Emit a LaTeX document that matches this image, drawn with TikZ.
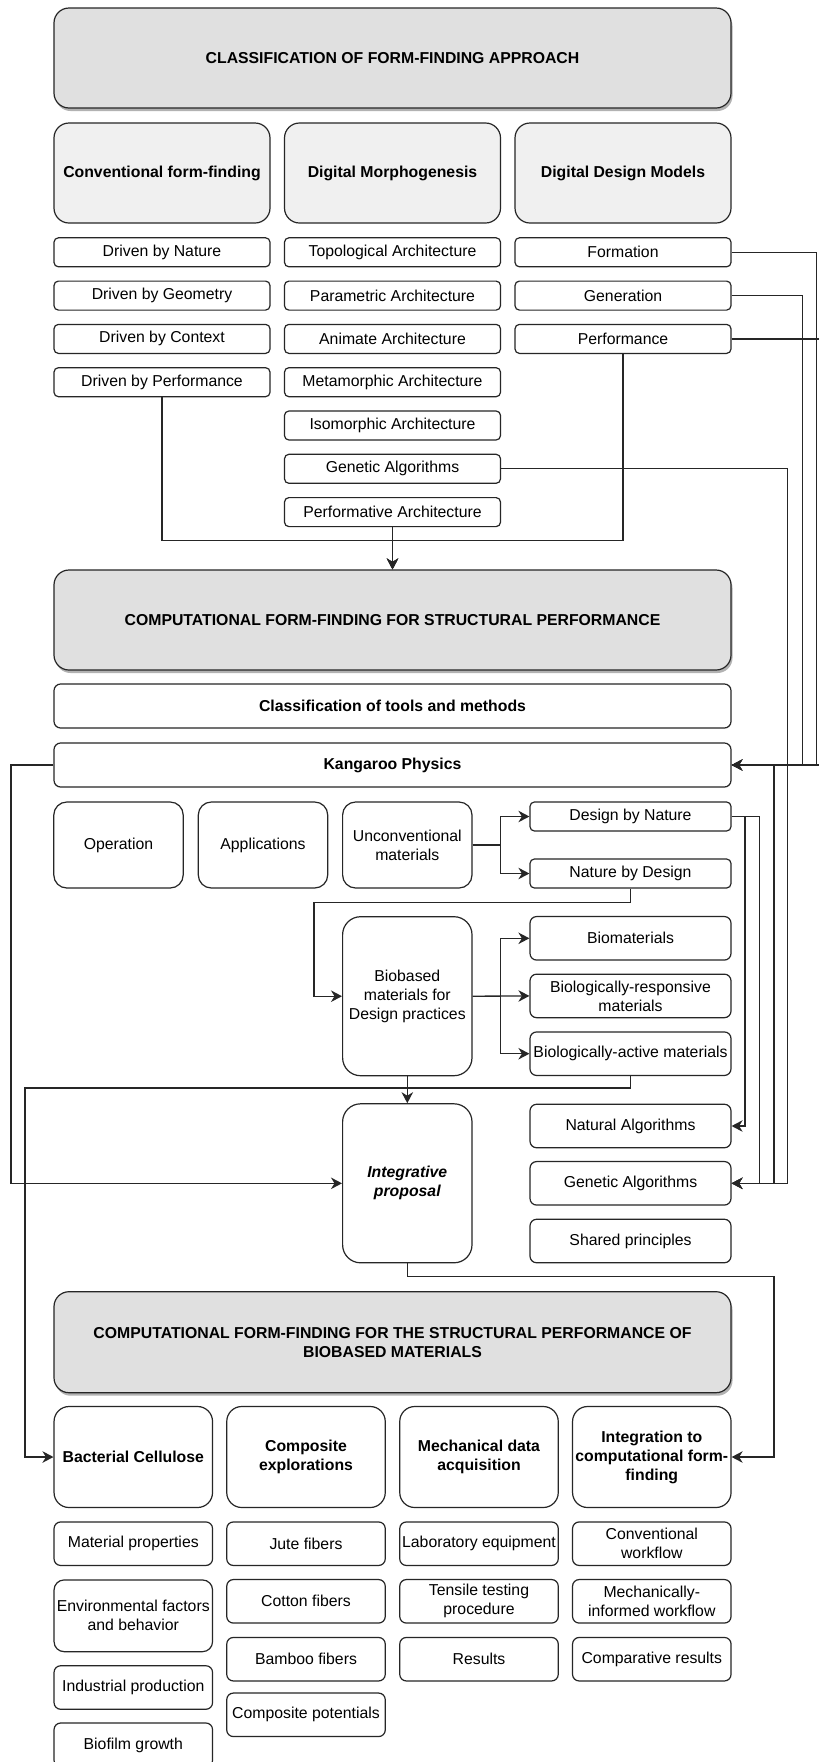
\documentclass[tikz,border=0pt]{standalone}
\usepackage{fontspec}
\setmainfont{Liberation Sans}
\usetikzlibrary{arrows.meta,shadows,calc}
\newcommand{\fsz}{\fontsize{15.8}{19}\selectfont}
\begin{document}
\begin{tikzpicture}[x=1pt,y=-1pt,
 base/.style={draw=black!85,line width=1.2pt,inner sep=2pt,align=center,font=\fsz,fill=white},
 ttl/.style={base,fill=black!12,rounded corners=15pt,minimum width=677pt,minimum height=100pt,font=\fsz\bfseries,
   drop shadow={shadow xshift=1.5pt,shadow yshift=-3pt,opacity=0.3,fill=black}},
 hdr/.style={base,fill=black!6,rounded corners=15pt,minimum width=216pt,minimum height=100pt,font=\fsz\bfseries},
 rowbox/.style={base,rounded corners=4.4pt,minimum width=216pt,minimum height=29pt},
 wide/.style={base,rounded corners=6.6pt,minimum width=677pt,minimum height=44pt,font=\fsz\bfseries},
 sq/.style={base,rounded corners=13pt,minimum width=129.4pt,minimum height=86pt},
 tall/.style={base,rounded corners=18pt,minimum width=129.4pt,minimum height=159pt},
 rbox/.style={base,rounded corners=4.4pt,minimum width=201pt,minimum height=29pt},
 rbig/.style={base,rounded corners=6.6pt,minimum width=201pt,minimum height=43.5pt},
 bhdr/.style={base,rounded corners=15pt,minimum width=158.5pt,minimum height=101pt,font=\fsz\bfseries},
 bitem/.style={base,rounded corners=6.6pt,minimum width=158.5pt,minimum height=43.5pt},
 ln/.style={draw=black!85,line width=1.3pt},
 arr/.style={ln,-{Stealth[length=11pt,width=11.5pt,inset=3.5pt]}}
]
\useasboundingbox (0,0) rectangle (819,1762);
\fill[white] (0,0) rectangle (819,1762);

% ---------- top section
\node[ttl] (t1) at (392.5,58) {CLASSIFICATION OF FORM-FINDING APPROACH};
\node[hdr] (h1) at (162,173) {Conventional form-finding};
\node[hdr] (h2) at (392.5,173) {Digital Morphogenesis};
\node[hdr] (h3) at (623,173) {Digital Design Models};

\node[rowbox] (dnat) at (162,252.3) {Driven by Nature};
\node[rowbox] (dgeo) at (162,295.6) {Driven by Geometry};
\node[rowbox] (dctx) at (162,338.9) {Driven by Context};
\node[rowbox] (dperf) at (162,382.2) {Driven by Performance};

\node[rowbox] (topo) at (392.5,252.3) {Topological Architecture};
\node[rowbox] (param) at (392.5,295.6) {Parametric Architecture};
\node[rowbox] (anim) at (392.5,338.9) {Animate Architecture};
\node[rowbox] (meta) at (392.5,382.2) {Metamorphic Architecture};
\node[rowbox] (iso) at (392.5,425.5) {Isomorphic Architecture};
\node[rowbox] (gena) at (392.5,468.8) {Genetic Algorithms};
\node[rowbox] (pa) at (392.5,512.1) {Performative Architecture};

\node[rowbox] (form) at (623,252.3) {Formation};
\node[rowbox] (gen) at (623,295.6) {Generation};
\node[rowbox] (perf) at (623,338.9) {Performance};

% ---------- middle section
\node[ttl] (t2) at (392.5,620) {COMPUTATIONAL FORM-FINDING FOR STRUCTURAL PERFORMANCE};
\node[wide] (cls) at (392.5,706) {Classification of tools and methods};
\node[wide] (kang) at (392.5,765) {Kangaroo Physics};

\node[sq] (op) at (118.5,845) {Operation};
\node[sq] (app) at (263,845) {Applications};
\node[sq] (unc) at (407.3,845) {Unconventional\\materials};

\node[rbox] (dbn) at (630.5,816.5) {Design by Nature};
\node[rbox] (nbd) at (630.5,873.5) {Nature by Design};

\node[tall] (bio) at (407.3,996.2) {Biobased\\materials for\\Design practices};
\node[rbig] (bm) at (630.5,938.3) {Biomaterials};
\node[rbig] (bresp) at (630.5,995.9) {Biologically-responsive\\materials};
\node[rbig] (bact) at (630.5,1053.7) {Biologically-active materials};

\node[tall,font=\fsz\bfseries\itshape] (integ) at (407.3,1183.3) {Integrative\\proposal};
\node[rbig] (nat) at (630.5,1126) {Natural Algorithms};
\node[rbig] (genb) at (630.5,1183.3) {Genetic Algorithms};
\node[rbig] (shp) at (630.5,1241) {Shared principles};

% ---------- bottom section
\node[ttl,minimum height=101pt] (t3) at (392.5,1342.2) {COMPUTATIONAL FORM-FINDING FOR THE STRUCTURAL PERFORMANCE OF\\BIOBASED MATERIALS};

\node[bhdr] (bc) at (133.3,1457) {Bacterial Cellulose};
\node[bhdr] (ce) at (306,1457) {Composite\\explorations};
\node[bhdr] (md) at (479,1457) {Mechanical data\\acquisition};
\node[bhdr] (intg) at (651.8,1457) {Integration to\\computational form-\\finding};

\node[bitem] (mp) at (133.3,1543.7) {Material properties};
\node[bitem,minimum height=71.7pt,rounded corners=10pt] (env) at (133.3,1615.8) {Environmental factors\\and behavior};
\node[bitem] (ind) at (133.3,1687.5) {Industrial production};
\node[bitem,minimum height=44pt] (bf) at (133.3,1745) {Biofilm growth};

\node[bitem] (jute) at (306,1543.7) {Jute fibers};
\node[bitem] (cot) at (306,1601.3) {Cotton fibers};
\node[bitem] (bam) at (306,1659.2) {Bamboo fibers};
\node[bitem] (cpot) at (306,1714.8) {Composite potentials};

\node[bitem] (lab) at (479,1543.7) {Laboratory equipment};
\node[bitem] (ten) at (479,1601.3) {Tensile testing\\procedure};
\node[bitem] (res) at (479,1659.2) {Results};

\node[bitem] (conv) at (651.8,1543.7) {Conventional\\workflow};
\node[bitem] (mech) at (651.8,1601.3) {Mechanically-\\informed workflow};
\node[bitem] (comp) at (651.8,1659.2) {Comparative results};

% ---------- connectors
\draw[arr] (dperf.south) |- (392.5,540.7) -- (t2.north);
\draw[arr] (perf.south) |- (392.5,540.7) -- (t2.north);
\draw[arr] (pa.south) -- (t2.north);

\draw[arr] (form.east) -- (816.7,252.3) |- (kang.east);
\draw[arr] (gen.east) -- (802.3,295.6) |- (kang.east);
\draw[arr] (perf.east) -- (832,338.9) |- (kang.east);
\draw[arr] (gena.east) -- (787.7,468.8) |- (genb.east);
\draw[arr] (kang.east) -- (774,765) |- (genb.east);
\draw[arr] (dbn.east) -- (759.3,816.5) |- (genb.east);
\draw[arr] (dbn.east) -- (745,816.5) |- (nat.east);

\draw[arr] (unc.east) -- (500.5,845) |- (dbn.west);
\draw[arr] (unc.east) -- (500.5,845) |- (nbd.west);
\draw[arr] (nbd.south) |- (314,902.7) |- (bio.west);

\draw[arr] (bio.east) -- (500.5,996.2) |- (bm.west);
\draw[arr] (bio.east) -- (bresp.west);
\draw[arr] (bio.east) -- (500.5,996.2) |- (bact.west);

\draw[arr] (bio.south) -- (integ.north);
\draw[arr] (kang.west) -- (11,765) |- (integ.west);
\draw[arr] (bact.south) |- (25,1088) |- (bc.west);
\draw[arr] (integ.south) |- (774,1276.7) |- (intg.east);
\end{tikzpicture}
\end{document}
